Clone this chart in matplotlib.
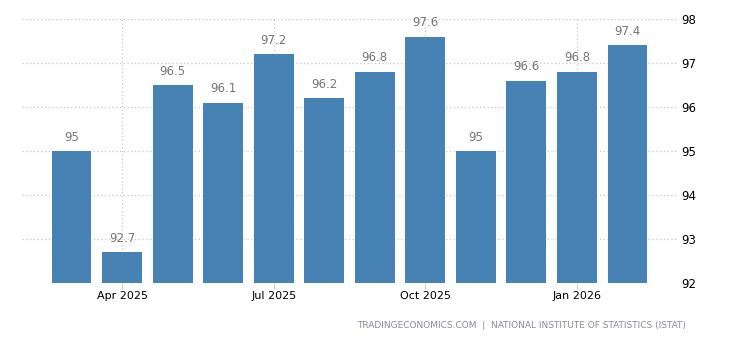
import matplotlib
matplotlib.use("Agg")
import matplotlib.pyplot as plt
import numpy as np

months = ["Mar 2025", "Apr 2025", "May 2025", "Jun 2025", "Jul 2025", "Aug 2025",
          "Sep 2025", "Oct 2025", "Nov 2025", "Dec 2025", "Jan 2026", "Feb 2026"]
values = [95, 92.7, 96.5, 96.1, 97.2, 96.2, 96.8, 97.6, 95, 96.6, 96.8, 97.4]
tick_months = ["Apr 2025", "Jul 2025", "Oct 2025", "Jan 2026"]
yticks = [92, 93, 94, 95, 96, 97, 98]

plt.rcParams['font.family'] = ['DejaVu Sans']

fig = plt.figure(figsize=(7.3, 3.4), dpi=100)
ax = fig.add_axes([22/730, 57/340, 655/730, 264/340])

x = np.arange(len(months))
base = 92
ax.bar(x, [v - base for v in values], bottom=base, width=0.79, color="#4682b4", zorder=3)

for xi, v in zip(x, values):
    ax.text(xi, v + 0.17, "%g" % v, ha="center", va="bottom", fontsize=8.5, color="#777777", zorder=4)

ax.set_xlim(-0.98, len(months) - 0.02)
ax.set_ylim(92, 98)
ax.set_yticks(yticks)
ax.set_xticks([months.index(m) for m in tick_months])
ax.set_xticklabels(tick_months)

ax.yaxis.tick_right()
ax.tick_params(axis="y", length=0, pad=3, labelsize=8.5, labelcolor="black")
ax.tick_params(axis="x", length=4, color="#cccccc", pad=2, labelsize=8, labelcolor="black")

ax.grid(True, which="major", axis="both", linestyle=(0, (1, 2)), color="#c8c8c8", linewidth=0.9, zorder=0)
for s in ax.spines.values():
    s.set_visible(False)

fig.text(686/730, 1 - 325/340, "TRADINGECONOMICS.COM  |  NATIONAL INSTITUTE OF STATISTICS (ISTAT)",
         ha="right", va="center", fontsize=6.5, color="#8a8a9a")

fig.savefig("out.png", dpi=100)
